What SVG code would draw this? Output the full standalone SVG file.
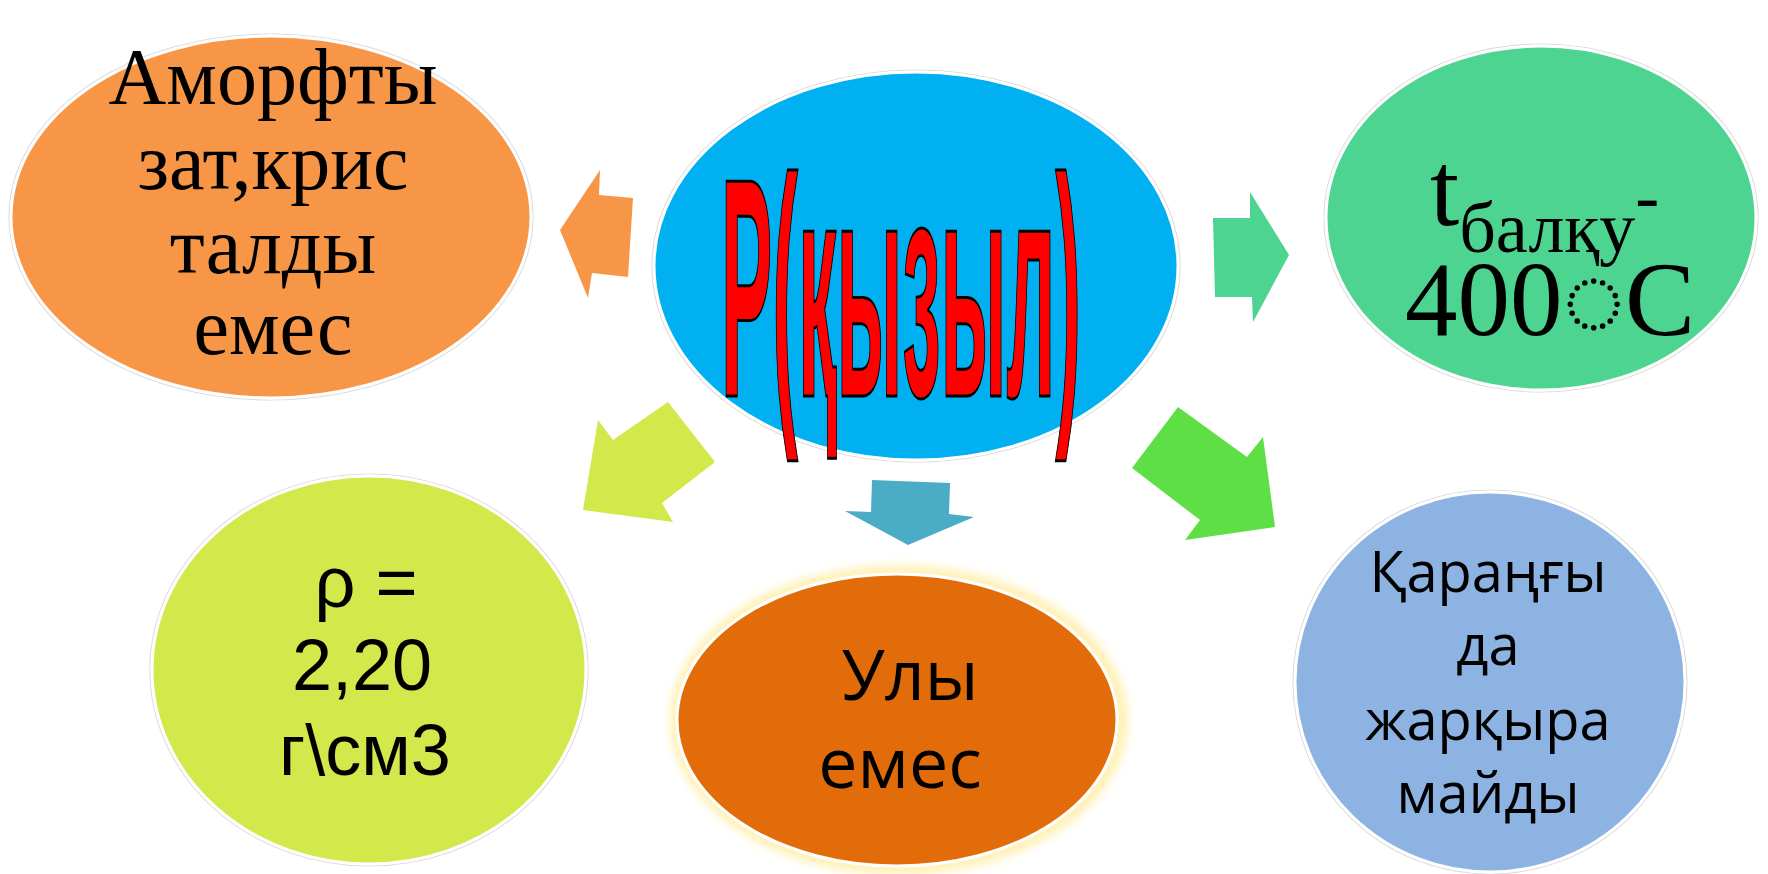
<svg xmlns="http://www.w3.org/2000/svg" width="1768" height="874" viewBox="0 0 1768 874">
<defs>
<filter id="glow" x="-20%" y="-20%" width="140%" height="140%">
<feGaussianBlur stdDeviation="6"/>
</filter>
</defs>
<style>
.rim{fill:none;stroke:#dcdcdc;stroke-width:1.2}
.node{stroke:#ffffff;stroke-width:3}
.serif{font-family:"Liberation Serif","Times New Roman",serif;fill:#000}
.arial{font-family:"Liberation Sans",Arial,sans-serif;fill:#000}
.cal{font-family:"Open Sans","Noto Sans",sans-serif;fill:#000}
.arrow{stroke:none}
</style>
<rect width="1768" height="874" fill="#ffffff"/>

<g id="connectors">
<polygon class="arrow" fill="#F79646" points="560,230 600,170 599,195 633,198 628,277 592,273 588,298"/>
<polygon class="arrow" fill="#4DD491" points="1213,218 1250,218 1250,192 1289,255 1253,322 1252,297 1215,297"/>
<polygon class="arrow" fill="#5DDF45" points="1178,407 1132,468 1200,520 1185,540 1275,527 1263,437 1247,457"/>
<polygon class="arrow" fill="#D3E94B" points="668,402 715,462 662,503 673,522 583,510 598,420 613,440"/>
<polygon class="arrow" fill="#4BACC6" points="872,480 950,483 949,514 974,517 908,545 845,511 871,512"/>
</g>

<g id="node-center">
<ellipse class="rim" cx="916" cy="266" rx="264" ry="196"/>
<ellipse class="node" cx="916" cy="266" rx="262" ry="194" fill="#00B0F0"/>
<text x="721" y="396" font-family="Liberation Sans, Arial, sans-serif" font-weight="bold" font-size="312" fill="#FF0000" stroke="#000" stroke-width="3" textLength="360" lengthAdjust="spacingAndGlyphs">P(қызыл)</text>
</g>

<g id="node-amorphous">
<ellipse class="rim" cx="271" cy="217" rx="262" ry="183"/>
<ellipse class="node" cx="271" cy="217" rx="260" ry="181" fill="#F79646"/>
<text class="serif" font-size="80" text-anchor="middle"><tspan x="273" y="104">Аморфты</tspan><tspan x="273" y="189">зат,крис</tspan><tspan x="273" y="273">талды</tspan><tspan x="273" y="354">емес</tspan></text>
</g>

<g id="node-melting">
<ellipse class="rim" cx="1541" cy="218" rx="217" ry="174"/>
<ellipse class="node" cx="1541" cy="218" rx="215" ry="172" fill="#4DD491"/>
<text class="serif" font-size="105" x="1430" y="225">t<tspan font-size="72" dy="27">балқу</tspan><tspan font-size="72" dy="-32">-</tspan></text>
<text class="serif" font-size="105" x="1405" y="335">400◌C</text>
</g>

<g id="node-density">
<ellipse class="rim" cx="369" cy="670" rx="219" ry="196"/>
<ellipse class="node" cx="369" cy="670" rx="217" ry="194" fill="#D3E94B"/>
<text class="arial" font-size="72" text-anchor="middle"><tspan x="366" y="607">ρ =</tspan><tspan x="362" y="690">2,20</tspan><tspan x="365" y="775">г\см3</tspan></text>
</g>

<g id="node-insoluble">
<ellipse cx="899" cy="720" rx="222" ry="148" fill="none" stroke="#FFE680" stroke-width="8" filter="url(#glow)"/>
<ellipse class="node" cx="897" cy="720" rx="220" ry="146" fill="#E36C0A"/>
<text class="cal" font-size="70" text-anchor="middle"><tspan x="910" y="700">Улы</tspan><tspan x="900" y="788">емес</tspan></text>
</g>

<g id="node-glow">
<ellipse class="rim" cx="1490" cy="682" rx="197" ry="192"/>
<ellipse class="node" cx="1490" cy="682" rx="195" ry="190" fill="#8DB3E2"/>
<text class="cal" font-size="56" text-anchor="middle"><tspan x="1488" y="592">Қараңғы</tspan><tspan x="1488" y="665">да</tspan><tspan x="1488" y="740">жарқыра</tspan><tspan x="1488" y="813">майды</tspan></text>
</g>
</svg>
